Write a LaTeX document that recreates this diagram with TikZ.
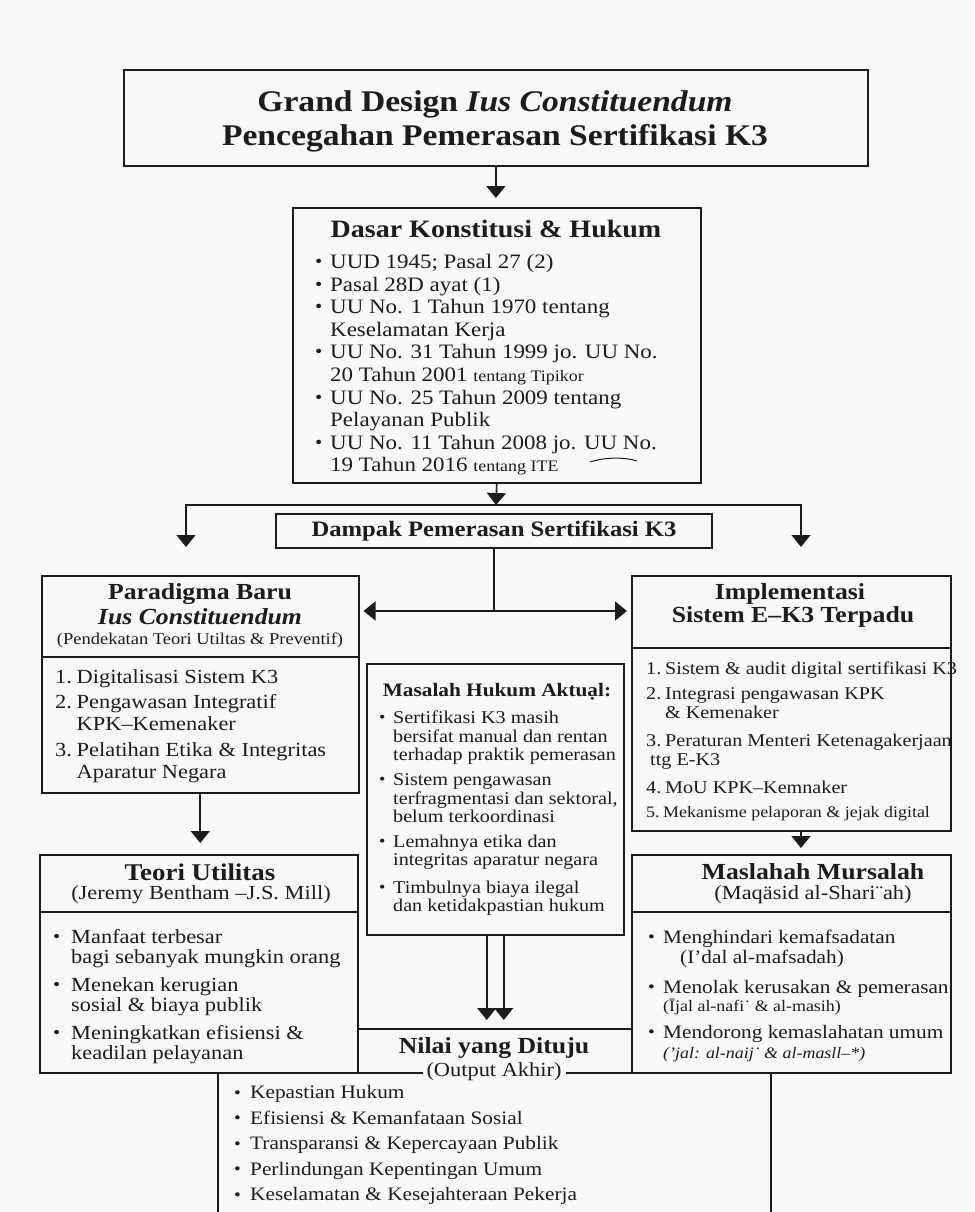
\documentclass[tikz,border=0pt]{standalone}
\usepackage{fontspec}
\setmainfont{Liberation Serif}[FakeStretch=1.12]
\usepackage{graphicx}
\usetikzlibrary{positioning,calc,arrows.meta}

\definecolor{pagebg}{RGB}{251,248,251}
\definecolor{boxbg}{RGB}{249,247,248}
\definecolor{ink}{RGB}{28,28,28}

\newcommand{\fs}[2]{\fontsize{#1}{#2}\selectfont}
\newcommand{\bul}[1][15pt]{\makebox[#1][l]{\raisebox{0.05em}{\scalebox{0.9}{\textbullet}}}}
\newcommand{\ind}[1][15pt]{\hspace*{#1}}
\newcommand{\nr}[2][21.5pt]{\makebox[#1][l]{#2}}

\tikzset{
  box/.style={draw=ink, line width=1.5pt, fill=boxbg, inner sep=0pt, anchor=north west},
  head/.style={text=ink, font=\bfseries\fs{23}{23}, inner sep=0pt},
  sub/.style={text=ink, inner sep=0pt},
  list/.style={text=ink, align=left, inner sep=0pt, anchor=north west},
  arr/.style={draw=ink, line width=1.6pt, -{Triangle[length=12pt,width=19pt]}},
  rule/.style={draw=ink, line width=1.2pt},
}

\begin{document}
\begin{tikzpicture}[x=1pt, y=-1pt]
\fill[pagebg] (0,0) rectangle (974,1212);
\useasboundingbox (0,0) rectangle (974,1212);
\clip (0,0) rectangle (974,1212);

% title
\node[box, line width=1.8pt, minimum width=744pt, minimum height=96pt] (title) at (123,69) {};
\node[head, font=\bfseries\fs{30}{34}, align=center] (titletext) at (495,121)
  {Grand Design \textit{Ius Constituendum}\\Pencegahan Pemerasan Sertifikasi K3};

% dasar konstitusi
\node[box, minimum width=408pt, minimum height=275pt] (dasar) at (292,207) {};
\node[head, font=\bfseries\fs{25}{25}] (dasarhead) at (496,229) {Dasar Konstitusi \& Hukum};
\node[list, font=\fs{20.5}{22.6}] (dasarlist) at (315,254) {%
  \bul UUD 1945; Pasal 27 (2)\\
  \bul Pasal 28D ayat (1)\\
  \bul UU No. 1 Tahun 1970 tentang\\
  \ind Keselamatan Kerja\\
  \bul UU No. 31 Tahun 1999 jo. UU No.\\
  \ind 20 Tahun 2001 {\fs{16}{16}tentang Tipikor}\\
  \bul UU No. 25 Tahun 2009 tentang\\
  \ind Pelayanan Publik\\
  \bul UU No. 11 Tahun 2008 jo. UU No.\\
  \ind 19 Tahun 2016 {\fs{16}{16}tentang ITE}};
\draw[ink, line width=1pt] (590,462) .. controls (605,457) and (625,457) .. (637,461);

% dampak
\node[box, anchor=center, minimum width=436pt, minimum height=34pt,
  font=\bfseries\fs{22}{22}, text=ink] (dampak) at (494,531) {Dampak Pemerasan Sertifikasi K3};

% paradigma baru
\node[box, minimum width=317pt, minimum height=217pt] (para) at (41,575) {};
\draw[rule] (para.west |- 0,657) -- (para.east |- 0,657);
\node[head] (paraA) at (200,594) {Paradigma Baru};
\node[head, font=\bfseries\itshape\fs{23}{23}] (paraB) at (200,617) {Ius Constituendum};
\node[sub, font=\fs{16.5}{17}] (paraC) at (200,640) {(Pendekatan Teori Utiltas \& Preventif)};
\node[list, font=\fs{20}{22}] (paralist) at (55,669) {%
  \nr{1.}Digitalisasi Sistem K3\\[3.5pt]
  \nr{2.}Pengawasan Integratif\\
  \ind[21.5pt]KPK–Kemenaker\\[3.5pt]
  \nr{3.}Pelatihan Etika \& Integritas\\
  \ind[21.5pt]Aparatur Negara};

% implementasi
\node[box, minimum width=319pt, minimum height=255pt] (impl) at (631,575) {};
\draw[rule] (impl.west |- 0,648) -- (impl.east |- 0,648);
\node[head] (implA) at (790,594) {Implementasi};
\node[head] (implB) at (793,617) {Sistem E–K3 Terpadu};
\node[list, font=\fs{18}{19}] (impllist) at (646,662) {%
  \nr[19pt]{1.}Sistem \& audit digital sertifikasi K3\\[6pt]
  \nr[19pt]{2.}Integrasi pengawasan KPK\\
  \ind[19pt]\& Kemenaker\\[9pt]
  \nr[19pt]{3.}Peraturan Menteri Ketenagakerjaan\\
  \ind[4pt]ttg E-K3\\[9pt]
  \nr[19pt]{4.}MoU KPK–Kemnaker\\[5pt]
  {\fs{16}{16}\nr[17pt]{5.}Mekanisme pelaporan \& jejak digital}};

% masalah hukum
\node[box, minimum width=257pt, minimum height=271pt] (masalah) at (366,663) {};
\node[head, font=\bfseries\fs{19}{19}] (masalahhead) at (497,692) {Masalah Hukum Aktuạl:};
\node[list, font=\fs{18}{18.3}] (masalahlist) at (379,711) {%
  \bul[14pt]Sertifikasi K3 masih\\
  \ind[14pt]bersifat manual dan rentan\\
  \ind[14pt]terhadap praktik pemerasan\\[7pt]
  \bul[14pt]Sistem pengawasan\\
  \ind[14pt]terfragmentasi dan sektoral,\\
  \ind[14pt]belum terkoordinasi\\[7pt]
  \bul[14pt]Lemahnya etika dan\\
  \ind[14pt]integritas aparatur negara\\[9pt]
  \bul[14pt]Timbulnya biaya ilegal\\
  \ind[14pt]dan ketidakpastian hukum};

% teori utilitas
\node[box, minimum width=318pt, minimum height=218pt] (teori) at (39,854) {};
\draw[rule] (teori.west |- 0,912) -- (teori.east |- 0,912);
\node[head, font=\bfseries\fs{24}{24}] (teoriA) at (200,872) {Teori Utilitas};
\node[sub, font=\fs{20}{20}] (teoriB) at (201,895) {(Jeremy Bentham –J.S. Mill)};
\node[list, font=\fs{20}{20}] (teorilist) at (53,929) {%
  \bul[18pt]Manfaat terbesar\\
  \ind[18pt]bagi sebanyak mungkin orang\\[8pt]
  \bul[18pt]Menekan kerugian\\
  \ind[18pt]sosial \& biaya publik\\[8pt]
  \bul[18pt]Meningkatkan efisiensi \&\\
  \ind[18pt]keadilan pelayanan};

% maslahah mursalah
\node[box, minimum width=319pt, minimum height=218pt] (masl) at (631,854) {};
\draw[rule] (masl.west |- 0,912) -- (masl.east |- 0,912);
\node[head] (maslA) at (813,872) {Maslahah Mursalah};
\node[sub, font=\fs{20}{20}] (maslB) at (813,895) {(Maqäsid al-Shari¨ah)};
\node[list, font=\fs{19}{20}] (masllist) at (648,930) {%
  \bul Menghindari kemafsadatan\\
  \ind[32pt](I’dal al-mafsadah)\\[10pt]
  \bul Menolak kerusakan \& pemerasan\\[-2pt]
  \ind{\fs{16}{16}(Ījal al-nafi˙ \& al-masih)}\\[7pt]
  \bul Mendorong kemaslahatan umum\\
  \ind{\fs{16}{16}\itshape (’jal: al-naij˙ \& al-masll–*)}};

% nilai yang dituju
\node[box, minimum width=274pt, minimum height=44pt] (nilai) at (357,1028) {};
\node[box, minimum width=553pt, minimum height=170pt] (nilaibody) at (217,1072) {};
\draw[rule, line width=1.5pt] (teori.south west) -- (masl.south east);
\node[head] (nilaihead) at (494,1048) {Nilai yang Dituju};
\node[sub, fill=boxbg, inner xsep=4pt, inner ysep=1pt, font=\fs{20}{20}] (output) at (494,1072) {(Output Akhir)};
\node[list, font=\fs{19}{25.5}] (nilailist) at (234,1085.6) {%
  \bul[16pt]Kepastian Hukum\\
  \bul[16pt]Efisiensi \& Kemanfataan Sosial\\
  \bul[16pt]Transparansi \& Kepercayaan Publik\\
  \bul[16pt]Perlindungan Kepentingan Umum\\
  \bul[16pt]Keselamatan \& Kesejahteraan Pekerja};

% connectors
\coordinate (split) at (496,505);
\coordinate (downL) at (186,547);
\coordinate (downR) at (801,547);
\coordinate (mid) at (494,611);
\draw[arr, shorten >=9pt] (title.south) -- (title.south |- dasar.north);
\draw[arr] (dasar.south) -- (split);
\draw[arr] (split) -| (downL);
\draw[arr] (split) -| (downR);
\draw[rule, line width=1.6pt] (dampak.south) -- (mid);
\draw[arr, shorten >=4pt] (mid) -- (mid -| para.east);
\draw[arr, shorten >=4pt] (mid) -- (mid -| impl.west);
\draw[arr, shorten >=11pt] (para.south) -- (para.south |- teori.north);
\draw[arr, shorten >=6pt] (impl.south -| downR) -- (downR |- masl.north);
\draw[arr, shorten >=8pt] ([xshift=-8.5pt]masalah.south) -- ([xshift=-8.5pt]masalah.south |- nilai.north);
\draw[arr, shorten >=8pt] ([xshift=8.5pt]masalah.south) -- ([xshift=8.5pt]masalah.south |- nilai.north);
\end{tikzpicture}
\end{document}
